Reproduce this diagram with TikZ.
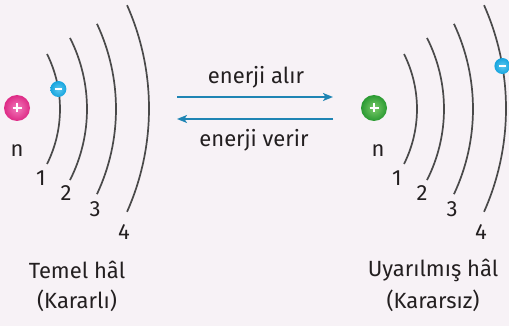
\documentclass[tikz,border=0pt]{standalone}
\usepackage{fontspec}
\setmainfont{Fira Sans}
\usetikzlibrary{arrows.meta,calc}
\definecolor{bg}{HTML}{F7F2F6}
\definecolor{orbitc}{HTML}{4A4A4A}
\definecolor{txt}{HTML}{231F20}
\definecolor{arrowc}{HTML}{1F85B4}
\definecolor{pinkA}{HTML}{DE2A86}
\definecolor{pinkB}{HTML}{F27BBB}
\definecolor{greenA}{HTML}{2A9A32}
\definecolor{greenB}{HTML}{7CCB6A}
\definecolor{cyanA}{HTML}{16A4DE}
\definecolor{cyanB}{HTML}{5CC8F0}
\begin{document}
\begin{tikzpicture}[x=1pt,y=-1pt,
  font=\fontsize{22}{25}\selectfont, text=txt,
  orbit/.style={draw=orbitc, line width=1.7pt},
  nucleus/.style={circle, minimum size=26pt, inner sep=0pt,
    path picture={\draw[white, line width=2.2pt]
      ([xshift=-4.5pt]path picture bounding box.center) -- ([xshift=4.5pt]path picture bounding box.center)
      ([yshift=-4.5pt]path picture bounding box.center) -- ([yshift=4.5pt]path picture bounding box.center);}},
  electron/.style={circle, minimum size=16pt, inner sep=0pt,
    inner color=cyanB, outer color=cyanA,
    path picture={\draw[white, line width=2pt]
      ([xshift=-3.5pt]path picture bounding box.center) -- ([xshift=3.5pt]path picture bounding box.center);}},
  lbl/.style={inner sep=0pt, anchor=center},
  flow/.style={draw=arrowc, line width=1.5pt, -{Stealth[length=10pt, width=8pt, inset=2.5pt]}}]

% background and page size
\fill[bg] (0,0) rectangle (509,326);
\useasboundingbox (0,0) rectangle (509,326);

% ---------- ground state atom ----------
\draw[orbit] (-63,109)   ++(26.56:123) arc[start angle=26.56, end angle=-26.56, radius=123];
\draw[orbit] (-70,109)   ++(26.9:157)  arc[start angle=26.9,  end angle=-26.9,  radius=157];
\draw[orbit] (-84,109)   ++(25.2:200)  arc[start angle=25.2,  end angle=-25.2,  radius=200];
\draw[orbit] (-105,108.5)++(24.0:254)  arc[start angle=24.0,  end angle=-24.0,  radius=254];
\node[nucleus, inner color=pinkB, outer color=pinkA] (nucL) at (17,108) {};
\node[electron] (eL) at ($(-63,109)+(-9.36:123)$) {};
\node[lbl] (nL) at (17,151) {n};
\node[lbl] (l1) at (41,178) {1};
\node[lbl] (l2) at (66,193) {2};
\node[lbl] (l3) at (95,209) {3};
\node[lbl] (l4) at (124,232) {4};
\node[lbl] (tL1) at (77,270) {Temel hâl};
\node[lbl] (tL2) at (77,301) {(Kararlı)};

% ---------- excited state atom ----------
\begin{scope}[xshift=357pt]
\draw[orbit] (-63,109)   ++(26.56:123) arc[start angle=26.56, end angle=-26.56, radius=123];
\draw[orbit] (-70,109)   ++(26.9:157)  arc[start angle=26.9,  end angle=-26.9,  radius=157];
\draw[orbit] (-84,109)   ++(25.2:200)  arc[start angle=25.2,  end angle=-25.2,  radius=200];
\draw[orbit] (-105,108.5)++(24.0:254)  arc[start angle=24.0,  end angle=-24.0,  radius=254];
\node[nucleus, inner color=greenB, outer color=greenA] (nucR) at (17,108) {};
\node[electron] (eR) at ($(-105,108.5)+(-9.63:254)$) {};
\node[lbl] (nR) at (21,151) {n};
\node[lbl] (r1) at (40,178) {1};
\node[lbl] (r2) at (65,193) {2};
\node[lbl] (r3) at (95,209) {3};
\node[lbl] (r4) at (124,232) {4};
\end{scope}
\node[lbl] (tR1) at (433,270) {Uyarılmış hâl};
\node[lbl] (tR2) at (433,301) {(Kararsız)};

% ---------- energy transfer arrows ----------
\coordinate (aL) at (177,97);
\coordinate (aR) at (333,97);
\coordinate (bL) at (177,119);
\coordinate (bR) at (333,119);
\draw[flow] (aL) -- (aR);
\draw[flow] (bR) -- (bL);
\node[lbl] (absorb) at (256,77) {enerji alır};
\node[lbl] (emit) at (254,140) {enerji verir};
\end{tikzpicture}
\end{document}
